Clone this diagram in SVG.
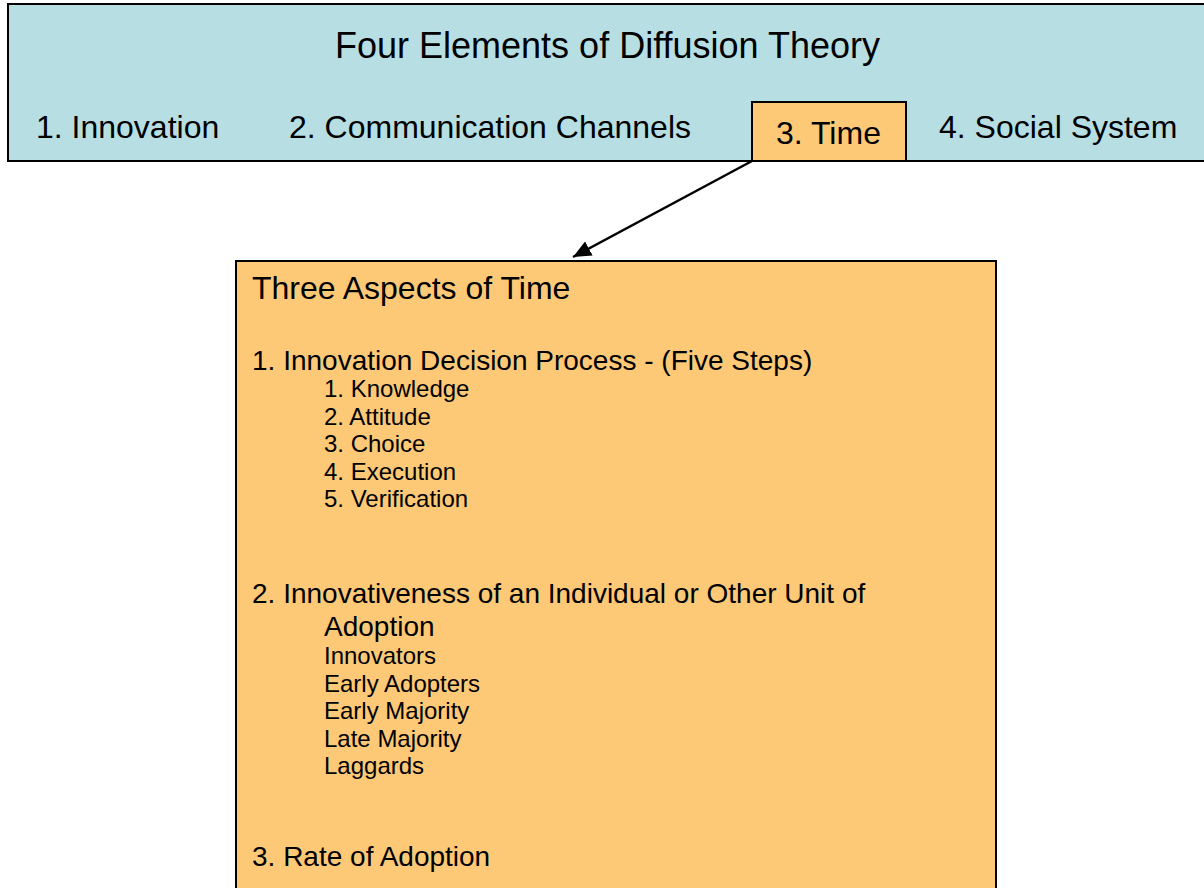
<svg xmlns="http://www.w3.org/2000/svg" width="1204" height="888" viewBox="0 0 1204 888">
<style>
text{font-family:"Liberation Sans",Arial,sans-serif;fill:#000}
.blue{fill:#B7DFE3;stroke:#000;stroke-width:2}
.orange{fill:#FDC977;stroke:#000;stroke-width:2}
.t36{font-size:36px}
.t32{font-size:32px}
.t28{font-size:28px}
.t24{font-size:24px}
.conn{stroke:#000;stroke-width:2.5;fill:none}
</style>
<defs>
<marker id="arr" markerUnits="userSpaceOnUse" markerWidth="20" markerHeight="16" refX="18" refY="8" orient="auto">
<path d="M0,0 L18,8 L0,16 z" fill="#000"/>
</marker>
</defs>
<g id="elements">
<rect class="blue" x="8" y="4" width="1210" height="157"/>
<text class="t36" x="607.5" y="58" text-anchor="middle">Four Elements of Diffusion Theory</text>
<text class="t32" x="36" y="138">1. Innovation</text>
<text class="t32" x="289" y="138">2. Communication Channels</text>
<text class="t32" x="939" y="138">4. Social System</text>
</g>
<g id="time">
<rect class="orange" x="752" y="102" width="154" height="59"/>
<text class="t32" x="776" y="144">3. Time</text>
</g>
<g id="connectors">
<line class="conn" x1="752" y1="161" x2="573" y2="257" marker-end="url(#arr)"/>
</g>
<g id="aspects">
<rect class="orange" x="236" y="261" width="760" height="640"/>
<text class="t32" x="252" y="299">Three Aspects of Time</text>
<text class="t28" x="252" y="370">1. Innovation Decision Process - (Five Steps)</text>
<text class="t24" x="324" y="397">1. Knowledge</text>
<text class="t24" x="324" y="425">2. Attitude</text>
<text class="t24" x="324" y="452">3. Choice</text>
<text class="t24" x="324" y="480">4. Execution</text>
<text class="t24" x="324" y="507">5. Verification</text>
<text class="t28" x="252" y="603">2. Innovativeness of an Individual or Other Unit of</text>
<text class="t28" x="324" y="636">Adoption</text>
<text class="t24" x="324" y="664">Innovators</text>
<text class="t24" x="324" y="692">Early Adopters</text>
<text class="t24" x="324" y="719">Early Majority</text>
<text class="t24" x="324" y="747">Late Majority</text>
<text class="t24" x="324" y="774">Laggards</text>
<text class="t28" x="252" y="866">3. Rate of Adoption</text>
</g>
</svg>
